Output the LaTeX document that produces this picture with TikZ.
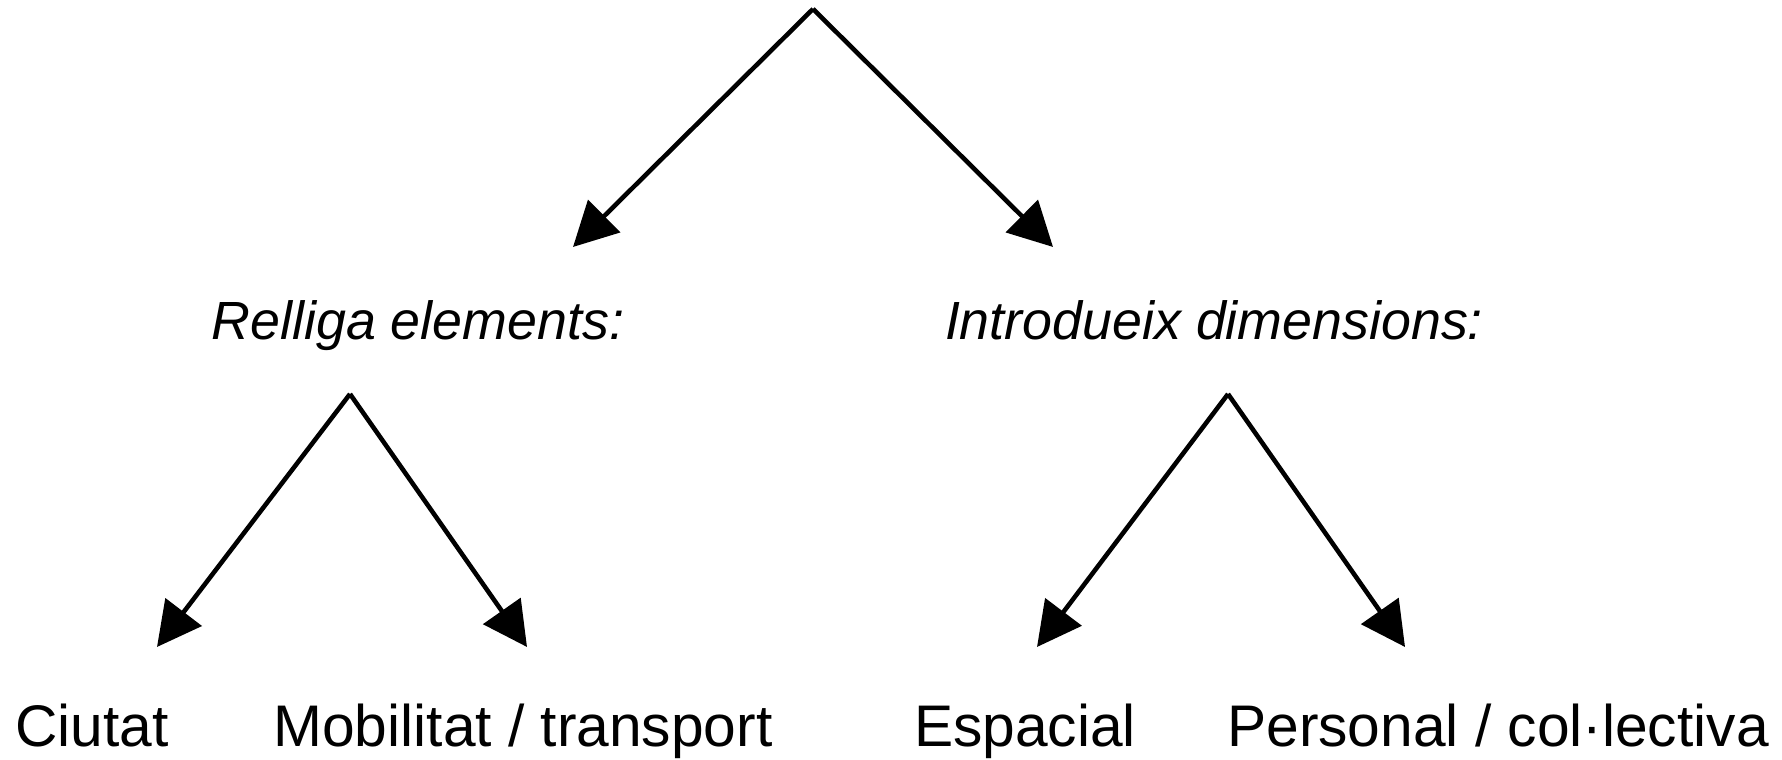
\documentclass[tikz,border=0pt]{standalone}
\usepackage{fontspec}
\setmainfont{Liberation Sans}
\usetikzlibrary{arrows.meta}
\begin{document}
\begin{tikzpicture}[line join=miter,line cap=butt,>={Triangle[length=4.4mm,width=4.5mm]},
	fl/.style={->,line width=1.3pt},
	mid/.style={anchor=base,inner sep=0pt,font=\fontsize{15.3}{18}\selectfont\itshape},
	leaf/.style={anchor=base,inner sep=0pt,font=\fontsize{16.7}{20}\selectfont}]
	\useasboundingbox (0,0) rectangle (17.82,7.60);
	\coordinate (top) at (8.13,7.51);
	\coordinate (tl) at (5.73,5.13);
	\coordinate (tr) at (10.53,5.13);
	\node[mid] (relliga) at (4.18,4.20) {Relliga elements:};
	\node[mid] (introd) at (12.14,4.20) {Introdueix dimensions:};
	\coordinate (la) at (3.50,3.66);
	\coordinate (ra) at (12.28,3.66);
	\coordinate (l1) at (1.57,1.13);
	\coordinate (l2) at (5.27,1.13);
	\coordinate (r1) at (10.37,1.13);
	\coordinate (r2) at (14.05,1.13);
	\node[leaf] (ciutat) at (0.92,0.13) {Ciutat};
	\node[leaf] (mobil) at (5.23,0.13) {Mobilitat / transport};
	\node[leaf] (espai) at (10.25,0.13) {Espacial};
	\node[leaf] (pers) at (14.98,0.13) {Personal / col·lectiva};
	\draw[fl] (top)--(tl);
	\draw[fl] (top)--(tr);
	\draw[fl] (la)--(l1);
	\draw[fl] (la)--(l2);
	\draw[fl] (ra)--(r1);
	\draw[fl] (ra)--(r2);
\end{tikzpicture}
\end{document}
